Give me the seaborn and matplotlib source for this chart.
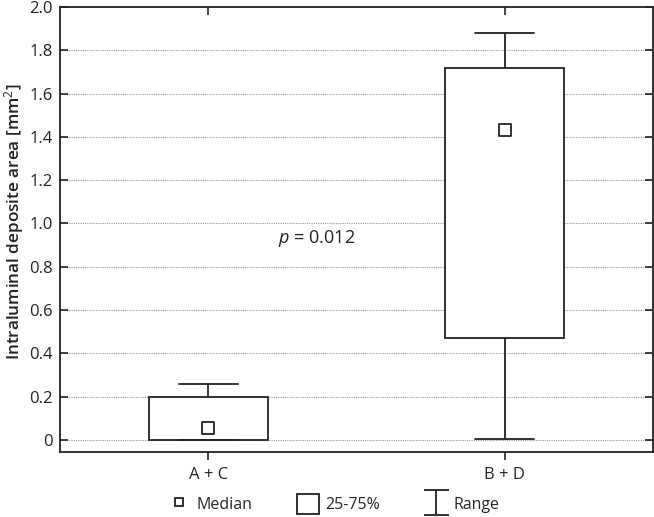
import matplotlib.pyplot as plt
import pandas as pd
import seaborn as sns
from matplotlib.lines import Line2D
from matplotlib.patches import Patch
from matplotlib.path import Path

# Values: range, quartiles and median per group
groups = ['A + C', 'B + D']
minimum = [0.0, 0.005]
q25 = [0.0, 0.47]
median = [0.055, 1.43]
q75 = [0.20, 1.72]
maximum = [0.257, 1.88]

ytick_vals = [0, 0.2, 0.4, 0.6, 0.8, 1.0, 1.2, 1.4, 1.6, 1.8, 2.0]
ytick_labels = ['0', '0.2', '0.4', '0.6', '0.8', '1.0', '1.2', '1.4', '1.6', '1.8', '2.0']

sns.set_style('white')
plt.rcParams['font.family'] = ['Open Sans', 'DejaVu Sans']
plt.rcParams['mathtext.fontset'] = 'custom'
plt.rcParams['mathtext.it'] = 'Open Sans:italic'
plt.rcParams['mathtext.rm'] = 'Open Sans'

# five points per group -> quartiles and range come out exactly
rows = []
for i, g in enumerate(groups):
    for v in [minimum[i], q25[i], median[i], q75[i], maximum[i]]:
        rows.append({'group': g, 'value': v})
df = pd.DataFrame(rows)
df_med = pd.DataFrame({'group': groups, 'value': median})

fig = plt.figure(figsize=(6.54, 5.17), dpi=100)
ax = fig.add_axes([60 / 654, 1 - 452 / 517, 593 / 654, 445 / 517])

sns.boxplot(data=df, x='group', y='value', order=groups, whis=(0, 100), width=0.4,
            color='white', linecolor='#222222', linewidth=1.3, showfliers=False,
            medianprops={'linewidth': 0}, ax=ax)
sns.scatterplot(data=df_med, x='group', y='value', marker='s', s=70, color='white',
                edgecolor='#222222', linewidth=1.3, zorder=5, ax=ax, legend=False)

ax.set_xlim(-0.5, 1.5)
ax.set_ylim(-0.056, 2.0)
ax.set_yticks(ytick_vals)
ax.set_yticklabels(ytick_labels)
for y in ytick_vals[:-1]:
    ax.axhline(y, color='#999999', linestyle=(0, (1, 1)), linewidth=0.8, zorder=0)

ax.tick_params(axis='y', direction='in', length=6, width=1.2, left=True, right=True,
               labelsize=12, colors='#222222', pad=5)
ax.tick_params(axis='x', direction='out', length=6, width=1.2, bottom=True,
               labelsize=12, colors='#222222', pad=5)
sec = ax.secondary_xaxis('top')
sec.set_xticks([0, 1])
sec.tick_params(direction='in', length=6, width=1.2, labeltop=False)
sec.spines['top'].set_visible(False)

for s in ax.spines.values():
    s.set_color('#222222')
    s.set_linewidth(1.3)

ax.set_xlabel('')
ax.set_ylabel('Intraluminal deposite area [mm$^2$]', fontsize=12.3,
              fontweight='semibold', color='#222222')
ax.yaxis.set_label_coords(-0.057, 0.517)

ax.text(0.365, 0.93, '$p$ = 0.012', fontsize=13, ha='center', va='center', color='#222222')

# legend
range_path = Path([(-1, 1), (1, 1), (0, 1), (0, -1), (-1, -1), (1, -1)],
                  [Path.MOVETO, Path.LINETO, Path.MOVETO, Path.LINETO, Path.MOVETO, Path.LINETO])
handles = [
    Line2D([], [], marker='s', linestyle='none', markersize=6, markerfacecolor='white',
           markeredgecolor='#222222', markeredgewidth=1.3),
    Patch(facecolor='white', edgecolor='#222222', linewidth=1.3),
    Line2D([], [], marker=range_path, linestyle='none', markersize=18, markerfacecolor='none',
           markeredgecolor='#222222', markeredgewidth=1.3),
]
fig.legend(handles, ['Median', '25-75%', 'Range'], loc='center', bbox_to_anchor=(0.51, 0.025),
           ncol=3, frameon=False, fontsize=11.5, handlelength=1.4, handleheight=1.6,
           handletextpad=0.4, columnspacing=2.8)

fig.savefig('out.png', dpi=100)
